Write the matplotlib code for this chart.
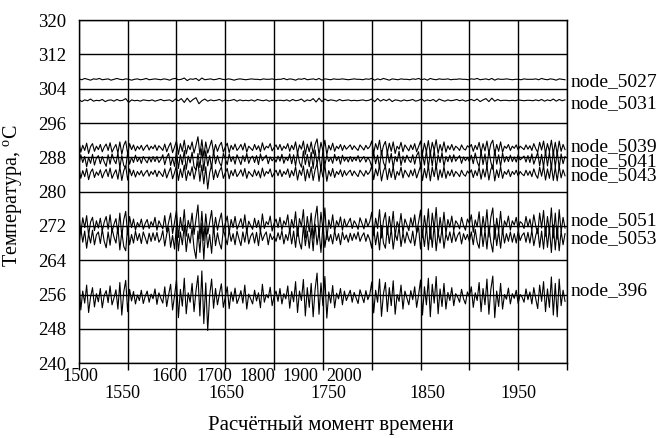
import numpy as np
import matplotlib
matplotlib.use("Agg")
import matplotlib.pyplot as plt
import matplotlib.transforms as mtransforms

plt.rcParams["font.family"] = ["Liberation Serif", "DejaVu Serif"]
plt.rcParams["mathtext.fontset"] = "custom"
plt.rcParams["mathtext.rm"] = "Liberation Serif"

# first and last computed moment shown; samples are evenly spaced in between
t_first, t_last = 1500, 1998

node_5027 = [
    306.3, 306.1, 306.4, 306.2, 306.0, 306.3, 306.2, 306.4, 306.1, 306.2,
    306.3, 306.0, 306.2, 306.4, 306.2, 306.1, 306.3, 306.2, 306.0, 306.2,
    306.3, 306.1, 306.2, 306.4, 306.1, 306.2, 306.3, 306.2, 306.1, 306.3,
    306.2, 306.0, 306.3, 306.4, 306.1, 306.2, 306.5, 305.9, 306.3, 306.2,
    306.4, 305.9, 306.5, 306.1, 306.2, 306.3, 306.1, 306.2, 306.4, 306.2,
    306.1, 306.3, 306.2, 306.0, 306.2, 306.3, 306.2, 306.1, 306.2, 306.3,
    306.2, 306.2, 306.1, 306.3, 306.2, 306.2, 306.3, 306.1, 306.2, 306.2,
    306.4, 306.1, 306.3, 306.2, 306.0, 306.3, 306.2, 306.4, 306.1, 306.2,
    306.3, 306.1, 306.4, 306.0, 306.3, 306.2, 306.1, 306.3, 306.2, 306.2,
    306.3, 306.2, 306.1, 306.2, 306.3, 306.2, 306.2, 306.1, 306.3, 306.2,
    306.4, 306.0, 306.3, 306.1, 306.4, 306.2, 306.0, 306.3, 306.2, 306.1,
    306.3, 306.2, 306.2, 306.1, 306.3, 306.2, 306.4, 306.1, 306.3, 306.0,
    306.4, 306.2, 306.1, 306.3, 306.2, 306.2, 306.3, 306.1, 306.2, 306.2,
    306.3, 306.2, 306.2, 306.1, 306.3, 306.2, 306.4, 306.1, 306.2, 306.3,
    306.1, 306.4, 306.0, 306.3, 306.2, 306.2, 306.3, 306.2, 306.1, 306.2,
    306.2, 306.1, 306.3, 306.2, 306.2, 306.2, 306.3, 306.1, 306.4, 306.2,
    306.1, 306.3, 306.2, 306.0, 306.3, 306.2, 306.1,
]

node_5031 = [
    301.5, 301.0, 301.4, 301.2, 301.6, 301.1, 301.3, 301.2, 301.5, 301.0,
    301.3, 301.4, 301.1, 301.5, 301.2, 301.3, 301.7, 300.8, 301.4, 301.2,
    301.3, 301.1, 301.4, 301.3, 301.2, 301.4, 301.1, 301.3, 301.5, 301.2,
    301.3, 301.4, 301.0, 301.6, 301.2, 301.7, 300.8, 301.8, 300.9, 301.5,
    301.9, 300.5, 301.2, 301.6, 301.1, 301.4, 301.2, 301.3, 301.5, 301.1,
    301.4, 301.2, 301.3, 301.5, 301.1, 301.4, 301.2, 301.3, 301.2, 301.4,
    301.1, 301.5, 301.3, 301.2, 301.4, 301.1, 301.3, 301.2, 301.3, 301.3,
    301.2, 301.4, 301.1, 301.5, 301.2, 301.3, 301.6, 301.0, 301.4, 301.2,
    301.7, 300.9, 301.8, 301.0, 301.6, 301.2, 301.4, 301.3, 301.1, 301.5,
    301.2, 301.3, 301.4, 301.2, 301.3, 301.2, 301.3, 301.4, 301.2, 301.3,
    301.6, 301.0, 301.7, 301.1, 301.5, 301.2, 301.6, 301.0, 301.4, 301.3,
    301.1, 301.4, 301.2, 301.3, 301.5, 301.1, 301.3, 301.6, 301.1, 301.4,
    301.2, 301.5, 301.0, 301.6, 301.3, 301.1, 301.4, 301.2, 301.3, 301.5,
    301.2, 301.4, 301.1, 301.3, 301.5, 301.2, 301.6, 301.0, 301.4, 301.7,
    301.0, 301.8, 301.1, 301.5, 301.2, 301.3, 301.3, 301.2, 301.3, 301.2,
    301.4, 301.3, 301.2, 301.3, 301.3, 301.2, 301.4, 301.2, 301.5, 301.1,
    301.4, 301.2, 301.6, 301.1, 301.5, 301.2, 301.4,
]

node_5039 = [
    291.9, 289.2, 290.8, 289.6, 291.3, 288.9, 290.5, 291.2, 289.4, 290.6,
    289.8, 291.0, 289.3, 290.4, 291.1, 289.6, 291.4, 289.2, 290.2, 291.0,
    289.0, 291.6, 288.7, 290.8, 291.8, 288.8, 291.2, 289.8, 290.9, 289.5,
    290.6, 289.9, 290.8, 289.6, 290.4, 290.9, 289.7, 290.6, 290.0, 290.9,
    289.6, 290.7, 290.2, 289.6, 291.1, 289.3, 290.5, 291.4, 289.1, 290.4,
    291.8, 288.7, 291.2, 289.4, 292.0, 288.8, 290.8, 289.8, 291.6, 289.0,
    290.8, 292.8, 288.6, 292.1, 288.2, 291.6, 289.0, 290.5, 292.0, 289.0,
    291.0, 289.4, 290.7, 291.5, 289.2, 290.4, 291.3, 289.1, 290.8, 289.8,
    291.1, 289.6, 290.2, 291.0, 289.7, 291.3, 289.2, 290.6, 290.1, 289.6,
    291.0, 289.8, 290.7, 289.3, 291.4, 289.7, 290.6, 290.2, 291.2, 289.5,
    290.3, 290.9, 289.8, 291.0, 289.6, 290.6, 290.0, 291.2, 289.4, 290.8,
    289.8, 291.6, 288.9, 290.9, 289.9, 291.8, 288.7, 291.1, 289.3, 291.6,
    288.8, 291.0, 292.3, 288.6, 291.5, 289.5, 292.0, 288.6, 290.8, 289.7,
    291.3, 289.4, 290.6, 290.0, 291.0, 289.6, 290.8, 289.9, 290.4, 290.9,
    289.8, 290.7, 290.1, 289.6, 290.9, 290.3, 289.7, 290.8, 290.0, 290.5,
    291.8, 289.0, 291.2, 289.8, 292.0, 288.7, 290.7, 291.7, 289.0, 291.3,
    289.4, 291.6, 288.9, 290.6, 289.9, 291.5, 289.3, 290.9, 290.2, 289.5,
    290.9, 289.8, 291.2, 289.3, 290.5, 291.8, 288.8, 291.3, 289.3, 291.9,
    288.7, 291.5, 289.6, 292.1, 288.9, 291.0, 289.4, 291.6, 289.2, 290.7,
    289.8, 291.0, 289.6, 290.6, 290.2, 289.6, 290.9, 290.0, 289.7, 290.7,
    290.3, 291.0, 289.4, 290.8, 289.8, 291.5, 289.0, 291.2, 289.5, 291.8,
    288.9, 291.1, 292.0, 288.7, 291.0, 289.4, 291.6, 289.2, 290.6, 290.1,
    291.0, 289.6, 290.6, 290.1, 290.9, 289.7, 290.6, 290.2, 289.8, 290.9,
    289.9, 290.7, 289.6, 291.2, 290.0, 289.2, 291.5, 289.7, 291.8, 288.9,
    291.2, 289.3, 292.0, 288.8, 291.5, 288.7, 291.8, 289.4, 291.0, 289.8,
]

node_5041 = [
    286.0, 288.6, 286.8, 288.2, 285.8, 288.0, 286.6, 288.7, 286.2, 287.8,
    288.4, 286.5, 288.2, 286.9, 285.9, 288.6, 286.4, 288.8, 287.4, 286.5,
    289.0, 285.6, 288.4, 286.1, 285.5, 289.1, 286.4, 288.0, 286.8, 288.5,
    287.0, 288.0, 286.6, 288.2, 287.4, 286.7, 288.1, 286.9, 288.2, 287.0,
    288.2, 286.8, 287.5, 288.6, 286.3, 288.0, 288.9, 286.1, 287.9, 285.9,
    289.4, 285.4, 288.6, 286.3, 289.6, 285.2, 288.3, 286.7, 289.2, 285.8,
    285.0, 288.9, 285.6, 290.0, 284.9, 289.5, 286.0, 288.4, 285.4, 289.6,
    286.5, 288.4, 286.8, 285.9, 288.9, 287.6, 286.3, 288.8, 287.0, 288.2,
    286.4, 288.6, 287.5, 286.3, 288.4, 287.0, 288.9, 286.6, 287.8, 288.3,
    286.8, 288.4, 286.3, 288.8, 287.2, 287.9, 288.5, 286.5, 288.1, 287.2,
    287.8, 286.9, 288.3, 287.1, 288.7, 286.6, 288.0, 287.2, 288.8, 286.5,
    288.6, 286.0, 289.2, 286.8, 285.7, 289.5, 286.3, 288.7, 285.8, 289.2,
    285.4, 289.7, 286.4, 288.6, 285.0, 289.6, 286.1, 288.5, 287.0, 288.0,
    286.6, 288.7, 287.2, 288.2, 286.4, 288.5, 287.1, 288.0, 286.9, 288.2,
    287.0, 288.0, 287.2, 288.4, 286.9, 287.6, 288.2, 286.9, 288.0, 287.2,
    285.8, 289.2, 286.5, 288.5, 285.5, 289.6, 286.8, 285.7, 289.4, 286.7,
    288.9, 285.6, 288.2, 287.0, 289.4, 286.1, 288.3, 286.8, 288.5, 287.4,
    286.8, 288.6, 286.4, 288.4, 289.3, 285.7, 288.7, 286.2, 289.6, 285.4,
    289.4, 286.0, 289.8, 285.3, 288.6, 286.8, 289.1, 285.9, 288.2, 287.0,
    288.5, 286.9, 288.6, 287.1, 287.8, 288.4, 286.6, 288.1, 287.2, 288.0,
    287.0, 288.5, 286.5, 289.0, 287.0, 285.8, 289.5, 286.3, 288.8, 285.6,
    289.6, 286.9, 285.2, 289.8, 286.4, 288.6, 285.9, 289.0, 286.9, 288.2,
    287.0, 288.5, 287.0, 288.1, 286.9, 288.6, 287.4, 287.8, 288.3, 286.9,
    288.4, 286.8, 288.8, 286.4, 287.8, 289.1, 286.0, 288.7, 285.7, 289.5,
    286.0, 289.2, 285.3, 289.7, 285.7, 289.4, 285.5, 288.8, 286.5, 288.2,
]

node_5043 = [
    285.9, 283.1, 284.9, 283.5, 285.4, 282.8, 284.5, 285.3, 283.3, 284.6,
    283.8, 285.1, 283.2, 284.4, 285.2, 283.5, 285.5, 283.1, 284.2, 285.1,
    282.9, 285.8, 282.6, 284.9, 286.0, 282.7, 285.3, 283.7, 285.0, 283.4,
    284.7, 283.9, 284.9, 283.6, 284.4, 285.0, 283.6, 284.7, 284.0, 285.0,
    283.5, 284.8, 284.2, 283.5, 285.3, 283.2, 284.5, 285.6, 283.0, 284.4,
    286.0, 282.6, 285.3, 283.3, 286.2, 282.6, 284.9, 283.7, 285.8, 282.9,
    284.9, 287.0, 282.4, 286.2, 281.8, 285.8, 280.6, 284.4, 286.2, 282.8,
    285.1, 283.3, 284.8, 285.7, 283.1, 284.4, 285.4, 283.0, 284.9, 283.7,
    285.2, 283.5, 284.2, 285.1, 283.6, 285.4, 283.1, 284.7, 284.1, 283.5,
    285.1, 283.7, 284.8, 283.2, 285.5, 283.6, 284.7, 284.2, 285.3, 283.4,
    284.3, 285.0, 283.7, 285.1, 283.5, 284.7, 284.0, 285.3, 283.3, 284.9,
    283.7, 285.8, 282.7, 285.0, 283.8, 286.0, 282.5, 285.2, 283.2, 285.8,
    282.6, 285.1, 286.6, 282.4, 285.7, 283.4, 286.2, 282.4, 284.9, 283.6,
    285.4, 283.3, 284.7, 284.0, 285.1, 283.5, 284.9, 283.8, 284.5, 285.0,
    283.7, 284.8, 284.1, 283.5, 285.0, 284.3, 283.6, 284.9, 284.0, 284.6,
    286.0, 282.8, 285.3, 283.7, 286.2, 282.5, 284.8, 285.9, 282.8, 285.4,
    283.3, 285.8, 282.8, 284.7, 283.8, 285.7, 283.2, 285.0, 284.2, 283.4,
    285.0, 283.7, 285.3, 283.2, 284.6, 286.0, 282.6, 285.4, 283.2, 286.1,
    282.5, 285.7, 283.5, 286.3, 282.7, 285.1, 283.3, 285.8, 283.1, 284.8,
    283.7, 285.1, 283.5, 284.7, 284.2, 283.5, 285.0, 284.0, 283.6, 284.8,
    284.2, 285.1, 283.3, 284.9, 283.7, 285.7, 282.9, 285.3, 283.4, 286.0,
    282.7, 285.2, 286.2, 282.5, 285.1, 283.3, 285.8, 283.1, 284.7, 284.0,
    285.1, 283.5, 284.7, 284.0, 285.0, 283.6, 284.7, 284.1, 283.7, 285.0,
    283.8, 284.8, 283.5, 285.3, 283.9, 283.1, 285.7, 283.6, 286.0, 282.7,
    285.3, 283.1, 286.2, 282.6, 285.7, 282.5, 286.0, 283.2, 285.1, 283.7,
]

node_5051 = [
    275.2, 270.3, 273.9, 271.6, 274.4, 269.8, 272.9, 274.0, 270.9, 273.2,
    271.5, 273.8, 270.8, 272.9, 274.2, 271.2, 274.6, 270.6, 272.4, 273.7,
    270.2, 275.0, 269.5, 273.4, 275.4, 269.9, 274.2, 271.6, 273.6, 271.0,
    272.8, 271.8, 273.6, 271.2, 272.6, 273.5, 271.4, 273.0, 272.0, 274.0,
    271.0, 273.2, 272.2, 271.3, 274.4, 270.6, 272.9, 275.0, 270.2, 272.8,
    275.6, 269.3, 274.0, 270.9, 275.8, 269.6, 273.3, 271.4, 275.0, 270.0,
    273.6, 276.9, 269.0, 275.4, 268.6, 274.8, 270.1, 272.9, 275.6, 270.4,
    274.0, 271.0, 273.2, 275.0, 270.6, 272.6, 274.3, 270.3, 273.5, 271.6,
    274.2, 271.2, 272.4, 273.7, 271.4, 274.6, 270.5, 273.1, 272.1, 271.2,
    273.8, 271.6, 273.3, 270.6, 274.8, 271.4, 273.0, 272.3, 274.3, 270.8,
    272.6, 273.6, 271.6, 274.0, 271.1, 273.2, 272.2, 274.6, 270.4, 273.5,
    271.5, 275.3, 269.6, 273.7, 271.8, 275.8, 269.2, 274.2, 270.6, 275.0,
    269.0, 273.8, 276.6, 269.4, 275.2, 271.0, 276.2, 268.8, 273.4, 271.4,
    274.6, 270.6, 273.2, 272.0, 274.1, 271.0, 273.6, 271.8, 272.8, 273.8,
    271.4, 273.2, 272.4, 271.2, 273.9, 272.6, 271.3, 273.7, 271.9, 273.0,
    275.2, 269.8, 273.8, 271.4, 275.8, 269.2, 273.2, 275.1, 270.0, 274.2,
    270.9, 275.4, 269.6, 273.0, 271.6, 274.9, 270.4, 273.6, 272.3, 270.9,
    273.9, 271.8, 274.6, 270.4, 272.9, 275.7, 269.3, 274.4, 270.8, 276.0,
    268.9, 275.0, 271.2, 276.3, 269.5, 274.0, 270.6, 275.2, 270.2, 273.5,
    271.7, 274.3, 270.9, 273.2, 272.5, 271.3, 274.0, 272.1, 271.0, 273.6,
    272.6, 274.6, 270.5, 273.4, 271.8, 275.3, 269.7, 274.2, 270.9, 275.8,
    269.4, 274.0, 276.2, 268.9, 273.8, 270.6, 275.4, 270.2, 273.2, 272.0,
    274.3, 271.0, 273.2, 272.2, 274.0, 271.1, 273.0, 272.6, 271.4, 274.2,
    271.8, 273.6, 271.0, 274.6, 272.0, 270.2, 275.0, 271.5, 275.6, 269.6,
    274.2, 270.5, 276.2, 269.2, 275.0, 268.9, 275.8, 270.6, 274.0, 271.5,
]

node_5053 = [
    267.0, 271.4, 268.2, 270.8, 266.8, 270.2, 268.0, 271.0, 267.6, 269.9,
    270.6, 267.9, 271.2, 268.4, 266.9, 270.6, 267.5, 271.4, 269.4, 268.0,
    271.8, 266.4, 270.7, 267.2, 266.2, 271.9, 267.6, 270.0, 268.0, 270.8,
    268.6, 270.2, 267.9, 270.6, 269.2, 267.8, 270.3, 268.4, 270.4, 268.6,
    270.5, 268.2, 269.0, 270.9, 267.3, 270.1, 271.6, 267.0, 269.8, 266.6,
    272.0, 266.2, 270.6, 267.6, 272.2, 266.0, 270.2, 268.0, 271.6, 266.8,
    264.4, 270.8, 265.8, 272.6, 264.2, 271.9, 266.9, 270.0, 265.6, 272.0,
    267.4, 270.4, 268.0, 266.6, 271.2, 269.4, 267.6, 271.0, 268.4, 270.2,
    267.6, 270.8, 269.0, 267.4, 270.6, 268.2, 271.3, 267.8, 269.6, 270.4,
    268.0, 270.5, 267.4, 271.0, 268.6, 269.8, 270.6, 267.6, 270.2, 268.8,
    269.6, 268.4, 270.4, 268.8, 270.9, 267.8, 270.0, 268.6, 271.2, 267.8,
    270.8, 267.0, 271.6, 268.2, 266.6, 272.0, 267.4, 270.8, 266.8, 271.5,
    266.2, 272.4, 267.6, 270.8, 265.8, 272.2, 267.0, 270.6, 268.4, 270.0,
    267.8, 270.9, 268.6, 270.2, 267.6, 270.6, 268.8, 269.9, 268.2, 270.3,
    268.6, 270.2, 268.9, 270.6, 268.4, 269.6, 270.4, 268.4, 270.0, 268.8,
    266.8, 271.6, 267.6, 270.6, 266.4, 272.1, 268.0, 266.8, 271.8, 267.9,
    271.4, 266.6, 270.2, 268.6, 271.8, 267.2, 270.4, 268.0, 270.6, 269.0,
    268.0, 270.8, 267.4, 270.4, 271.6, 266.6, 270.8, 267.2, 272.0, 266.4,
    271.8, 267.0, 272.4, 266.2, 270.6, 268.0, 271.4, 266.8, 270.2, 268.6,
    270.6, 268.1, 270.8, 268.4, 269.8, 270.6, 267.8, 270.2, 268.8, 270.0,
    268.4, 270.6, 267.6, 271.2, 268.2, 266.8, 271.9, 267.2, 271.0, 266.6,
    272.0, 268.2, 265.9, 272.3, 267.4, 270.8, 266.8, 271.2, 268.0, 270.2,
    268.4, 270.6, 268.2, 270.2, 268.0, 270.9, 268.6, 269.8, 270.4, 268.2,
    270.5, 268.0, 271.0, 267.4, 269.8, 271.4, 267.0, 270.8, 266.6, 271.9,
    267.0, 271.6, 265.8, 272.2, 266.4, 271.8, 266.2, 270.8, 267.6, 270.2,
]

node_396 = [
    259.6, 252.4, 256.8, 254.0, 258.2, 251.8, 255.4, 257.6, 253.1, 256.2,
    254.3, 257.4, 252.9, 255.8, 256.9, 254.1, 258.0, 253.6, 255.2, 257.1,
    252.6, 258.8, 251.2, 256.6, 259.3, 252.0, 257.2, 254.5, 256.7, 253.8,
    255.9, 254.6, 257.0, 253.9, 255.6, 256.8, 254.2, 256.1, 255.0, 257.3,
    253.7, 256.4, 255.1, 254.0, 257.8, 253.2, 256.0, 258.4, 252.4, 255.7,
    259.4, 250.6, 257.2, 253.3, 259.8, 251.5, 256.4, 254.2, 258.6, 252.0,
    256.9, 260.4, 251.0, 261.5, 249.2, 258.7, 247.6, 255.8, 259.6, 252.8,
    257.4, 253.6, 256.2, 258.5, 253.0, 255.4, 257.8, 252.7, 256.6, 254.4,
    257.5, 253.9, 255.2, 256.9, 254.0, 258.2, 252.6, 256.1, 255.0, 253.8,
    257.0, 254.5, 256.4, 252.9, 258.4, 254.2, 256.0, 255.2, 257.7, 253.4,
    255.6, 256.8, 254.4, 257.4, 253.8, 256.2, 255.0, 258.0, 252.8, 256.7,
    254.3, 259.0, 251.8, 256.8, 254.6, 259.5, 251.0, 257.6, 253.0, 258.6,
    250.8, 257.2, 261.0, 251.4, 258.7, 253.4, 260.2, 250.5, 256.6, 254.0,
    258.1, 252.9, 256.3, 255.0, 257.4, 253.6, 256.8, 254.6, 255.8, 257.0,
    254.2, 256.5, 255.2, 253.9, 257.1, 255.6, 254.1, 256.9, 254.8, 256.0,
    258.9, 251.7, 257.0, 254.2, 259.6, 250.9, 256.2, 258.8, 252.0, 257.6,
    253.4, 259.2, 251.4, 256.0, 254.4, 258.2, 252.6, 256.8, 255.2, 253.6,
    256.9, 254.8, 257.8, 253.0, 255.9, 259.4, 251.2, 257.8, 253.6, 259.8,
    250.8, 258.4, 254.0, 260.2, 251.5, 257.3, 253.2, 258.6, 252.6, 256.5,
    254.6, 257.6, 253.4, 256.2, 255.4, 254.2, 257.2, 255.0, 253.8, 256.6,
    255.5, 257.8, 253.0, 256.4, 254.6, 258.8, 252.0, 257.4, 253.6, 259.6,
    251.4, 257.2, 260.3, 250.6, 256.8, 253.2, 258.6, 252.6, 256.0, 254.9,
    257.5, 253.8, 256.2, 255.1, 257.0, 253.9, 256.0, 255.4, 254.2, 257.3,
    254.8, 256.6, 253.8, 257.6, 255.0, 252.7, 258.2, 254.4, 259.0, 252.0,
    257.3, 253.0, 260.1, 251.2, 258.6, 250.8, 259.6, 253.4, 257.0, 254.4,
]

series = [node_5027, node_5031, node_5039, node_5041, node_5043,
          node_5051, node_5053, node_396]
names = ["node_5027", "node_5031", "node_5039", "node_5041", "node_5043",
         "node_5051", "node_5053", "node_396"]
# where each name is written on the right edge (temperature scale)
name_y = [305.6, 300.6, 290.6, 287.1, 283.7, 273.3, 269.0, 257.0]

# the odd two-row x labels of the original
top_labels = ["1500", "1600", "1700", "1800", "1900", "2000"]
top_label_x = [1502, 1593, 1639, 1683, 1727, 1772]
bottom_labels = ["1550", "1650", "1750", "1850", "1950"]
bottom_label_x = [1545, 1651, 1756, 1857, 1950]

fig = plt.figure(figsize=(6.57, 4.38), dpi=100)
ax = fig.add_axes([0.120, 0.171, 0.743, 0.783])

for vals in series:
    t = np.linspace(t_first, t_last, len(vals))
    ax.plot(t, vals, color="black", lw=0.8)

ax.set_xlim(1500, 2000)
ax.set_ylim(240, 320)
ax.set_yticks(np.arange(240, 321, 8))
ax.set_xticks(np.arange(1500, 2001, 50))
ax.set_xticklabels([])
ax.grid(True, color="black", lw=1.0)
ax.set_axisbelow(True)
for sp in ax.spines.values():
    sp.set_linewidth(1.0)
ax.tick_params(axis="y", length=0, pad=9, labelsize=13.5)
ax.tick_params(axis="x", length=5, width=1.0, direction="out")

trans = mtransforms.blended_transform_factory(ax.transData, ax.transAxes)
for lab, xv in zip(top_labels, top_label_x):
    ax.text(xv, -0.038, lab, transform=trans, ha="center", va="center", fontsize=13)
for lab, xv in zip(bottom_labels, bottom_label_x):
    ax.text(xv, -0.088, lab, transform=trans, ha="center", va="center", fontsize=13)

trans_r = mtransforms.blended_transform_factory(ax.transAxes, ax.transData)
for lab, yv in zip(names, name_y):
    ax.text(1.008, yv, lab, transform=trans_r, ha="left", va="center", fontsize=14)

ax.set_ylabel(r"Температура, $^{\mathrm{o}}$C", fontsize=14.5)
ax.yaxis.set_label_coords(-0.110, 0.487)
fig.text(0.503, 0.03, "Расчётный момент времени", ha="center", va="center", fontsize=15)

fig.savefig("out.png", dpi=100)
